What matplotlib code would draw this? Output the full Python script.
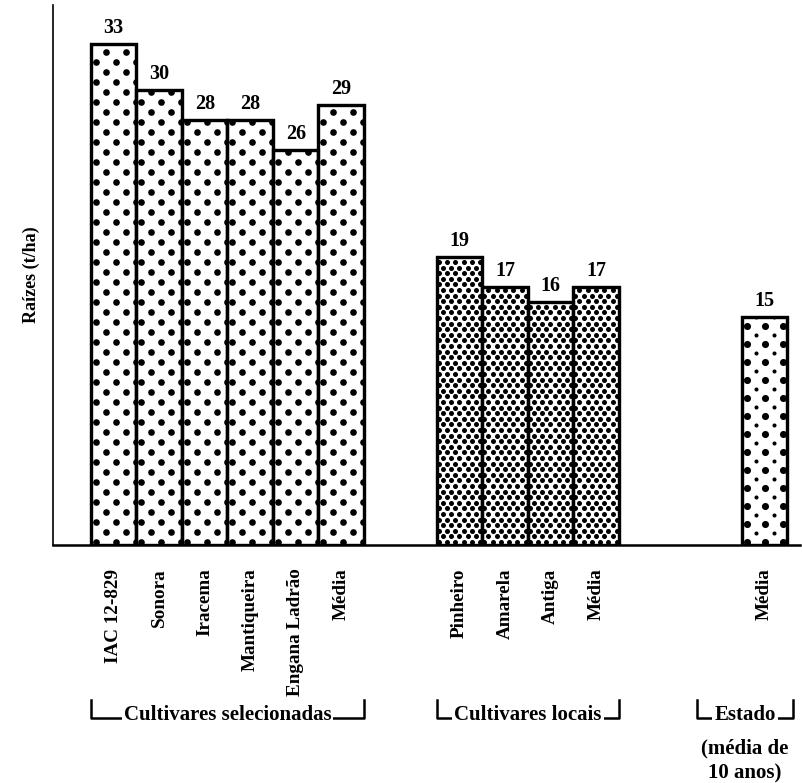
import matplotlib
matplotlib.use("Agg")
import matplotlib.pyplot as plt
import matplotlib.transforms as mtransforms
import numpy as np

# Produtividade de raizes (t/ha)
sel_names = ["IAC 12-829", "Sonora", "Iracema", "Mantiqueira", "Engana Ladrão", "Média"]
sel_vals = [33, 30, 28, 28, 26, 29]
loc_names = ["Pinheiro", "Amarela", "Antiga", "Média"]
loc_vals = [19, 17, 16, 17]
est_names = ["Média"]
est_vals = [15]
group_titles = ["Cultivares selecionadas", "Cultivares locais", "Estado"]

plt.rcParams['font.family'] = ['Liberation Serif', 'DejaVu Serif']
plt.rcParams['font.weight'] = 'bold'

fig = plt.figure(figsize=(8.03, 7.83), dpi=100)
ax = fig.add_axes([0.066, 0.304, 0.93, 0.690])

# bar positions (bar width = 1)
x_sel = np.arange(len(sel_vals))
x_loc = 7.6 + np.arange(len(loc_vals))
x_est = np.array([14.3])

xlim = (-1.335, 15.08)
ylim = (0, 35.6)
ax.set_xlim(*xlim)
ax.set_ylim(*ylim)

bars1 = ax.bar(x_sel, sel_vals, width=1, color='white', edgecolor='black', linewidth=2.3, zorder=1)
bars2 = ax.bar(x_loc, loc_vals, width=1, color='white', edgecolor='black', linewidth=2.3, zorder=1)
bars3 = ax.bar(x_est, est_vals, width=1, color='white', edgecolor='black', linewidth=2.3, zorder=1)

# dotted screen inside the bars (spacing in pixels)
bbox = ax.get_position()
ppx = bbox.width * fig.bbox.width / (xlim[1] - xlim[0])
ppy = bbox.height * fig.bbox.height / (ylim[1] - ylim[0])


def dot_screen(patch, dx, dy, s_even, s_odd, x_off=3):
    x0 = patch.get_x()
    w = patch.get_width()
    h = patch.get_height()
    nrows = int(h * ppy / dy) + 2
    ncols = int(w * ppx / dx) + 2
    for parity, s in [(0, s_even), (1, s_odd)]:
        rows = np.arange(parity, nrows, 2)
        cols = np.arange(-1, ncols)
        cx, ry = np.meshgrid(cols, rows)
        px = x0 + (x_off + cx * dx + parity * dx / 2) / ppx
        py = (ry * dy + 3) / ppy
        sc = ax.scatter(px.ravel(), py.ravel(), s=s, color='black', linewidths=0, zorder=2)
        sc.set_clip_path(patch)


for p in bars1.patches:
    dot_screen(p, 20, 10, 23, 23, x_off=5)
for p in bars2.patches:
    dot_screen(p, 8.3, 5.6, 13, 13, x_off=2)
for p in bars3.patches:
    dot_screen(p, 18, 9, 26, 8.5, x_off=5)

# outline again on top of the dots
for b in [bars1, bars2, bars3]:
    for p in b.patches:
        ax.add_patch(plt.Rectangle((p.get_x(), 0), p.get_width(), p.get_height(),
                                   fill=False, edgecolor='black', linewidth=2.3, zorder=3))

for xs, vs in [(x_sel, sel_vals), (x_loc, loc_vals), (x_est, est_vals)]:
    for x, v in zip(xs, vs):
        ax.text(x, v + 0.4, str(v), ha='center', va='bottom', fontsize=14.5, fontweight='bold')

ax.spines['top'].set_visible(False)
ax.spines['right'].set_visible(False)
ax.spines['left'].set_linewidth(1.2)
ax.spines['bottom'].set_linewidth(1.8)
ax.spines['bottom'].set_zorder(4)
ax.set_yticks([])

ax.set_xticks(np.concatenate([x_sel, x_loc, x_est]))
ax.set_xticklabels(sel_names + loc_names + est_names, rotation=90,
                   fontsize=13.8, fontweight='bold', va='top')
ax.tick_params(axis='x', length=0, pad=17)

ax.set_ylabel("Raízes (t/ha)", fontsize=13, fontweight='bold', labelpad=9)

# group brackets below the labels
trans = mtransforms.blended_transform_factory(ax.transData, ax.transAxes)
y_top, y_bot = -0.287, -0.321
brackets = [(-0.5, 5.5), (7.1, 11.1), (12.82, 14.93)]
for (x0, x1), title in zip(brackets, group_titles):
    ax.plot([x0, x0, x1, x1], [y_top, y_bot, y_bot, y_top], color='black',
            linewidth=1.8, transform=trans, clip_on=False)
    ax.text((x0 + x1) / 2, y_bot + 0.006, title, ha='center', va='center',
            fontsize=15, fontweight='bold', transform=trans,
            bbox=dict(facecolor='white', edgecolor='none', pad=1.5))

ax.text((brackets[2][0] + brackets[2][1]) / 2, y_bot - 0.038, "(média de\n10 anos)",
        ha='center', va='top', fontsize=15, fontweight='bold', transform=trans,
        linespacing=1.3)

fig.savefig("out.png", dpi=100)
